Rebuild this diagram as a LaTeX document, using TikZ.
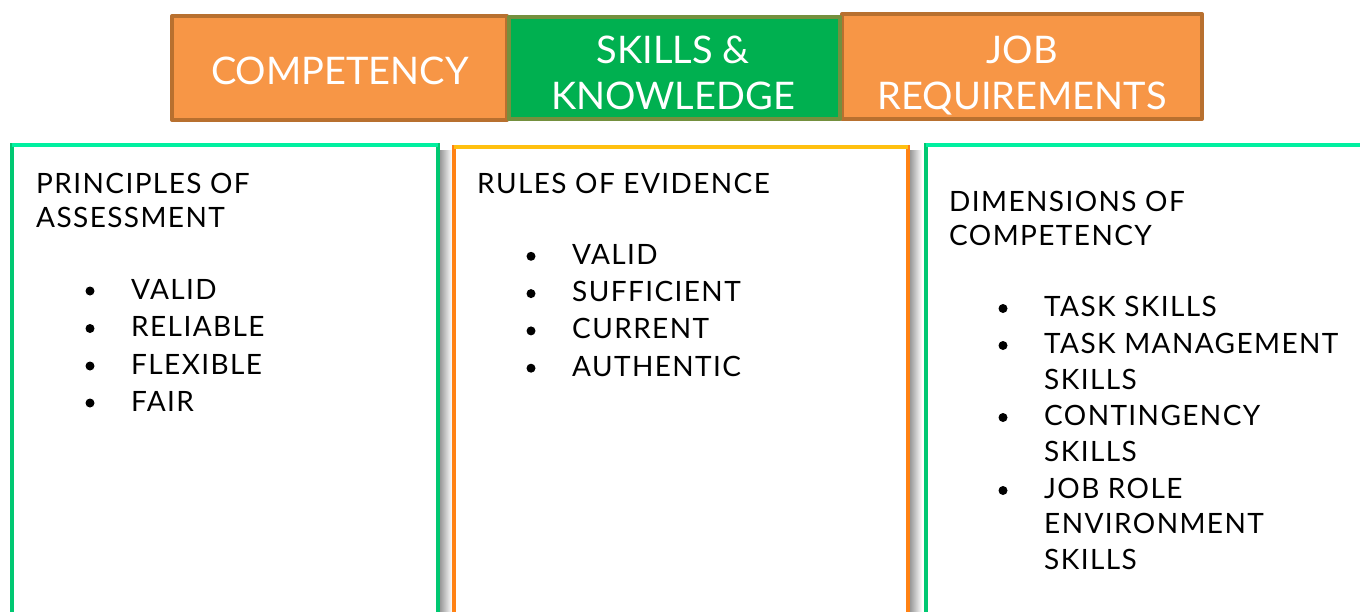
\documentclass[tikz,border=0pt]{standalone}
\usepackage{fontspec}
\setmainfont{Lato}
\newfontfamily\bodyfont[LetterSpace=5]{Lato}

\definecolor{boxorange}{HTML}{F79646}
\definecolor{lineorange}{HTML}{B8702F}
\definecolor{boxgreen}{HTML}{00B050}
\definecolor{linegreen}{HTML}{74903E}
\definecolor{panelgreen}{HTML}{00C872}
\definecolor{panelmint}{HTML}{00F0A0}
\definecolor{panelorange}{HTML}{FF8214}
\definecolor{panelgold}{HTML}{FFC010}

\tikzset{
  topbox/.style={line width=4pt, line join=round},
  toptext/.style={text=white, anchor=base, font=\fontsize{38}{46}\selectfont},
  panel/.style={line width=4pt},
  heading/.style={anchor=base west, inner sep=0pt, font=\bodyfont\fontsize{28}{32}\selectfont},
  item/.style={anchor=base west, inner sep=0pt, font=\bodyfont\fontsize{28}{32}\selectfont},
  dot/.style={fill=black},
}

\begin{document}
\begin{tikzpicture}[x=1pt,y=-1pt]

  \useasboundingbox (0,0) rectangle (1360,611);
  \clip (0,0) rectangle (1360,611);

  \foreach \xb in {440,910}
    \fill[left color=black!40, right color=white] (\xb,150) rectangle (\xb+12,620);

  \begin{scope}[panel]
    \draw[draw=panelgreen] (12,630) |- (438,145) -- (438,630);
    \draw[draw=panelmint] (12,145) -- (438,145);
    \draw[draw=panelorange] (454,630) |- (908,147) -- (908,630);
    \draw[draw=panelgold] (454,147) -- (908,147);
    \draw[draw=panelgreen] (926,630) |- (1370,145);
    \draw[draw=panelmint] (926,145) -- (1370,145);
  \end{scope}

  \begin{scope}[topbox]
    \draw[draw=lineorange, fill=boxorange] (172,16) rectangle (507,120);
    \draw[draw=lineorange, fill=boxorange] (842,14) rectangle (1202,119);
    \draw[draw=linegreen, fill=boxgreen] (509,17) rectangle (840,119);
  \end{scope}

  \node[toptext] (comp) at (340,84) {COMPETENCY};
  \node[toptext] (skills) at (673,63) {SKILLS \&};
  \node[toptext] (know) at (673,109) {KNOWLEDGE};
  \node[toptext] (job) at (1022,63) {JOB};
  \node[toptext] (req) at (1022,109) {REQUIREMENTS};

  \node[heading] (pa1) at (36,193) {PRINCIPLES OF};
  \node[heading] (pa2) at (36,227) {ASSESSMENT};
  \foreach \t/\y [count=\i] in {VALID/299,RELIABLE/336.5,FLEXIBLE/374,FAIR/411}{
    \fill[dot] (90,\y-8) circle (4.5);
    \node[item] (pa-\i) at (131,\y) {\t};
  }

  \node[heading] (re) at (477,193) {RULES OF EVIDENCE};
  \foreach \t/\y [count=\i] in {VALID/264.3,SUFFICIENT/301.6,CURRENT/338.9,AUTHENTIC/376.2}{
    \fill[dot] (531,\y-8) circle (4.5);
    \node[item] (re-\i) at (572,\y) {\t};
  }

  \node[heading] (dc1) at (949,211) {DIMENSIONS OF};
  \node[heading] (dc2) at (949,245.5) {COMPETENCY};
  \foreach \y in {316.5,353.5,425.5,498.5}
    \fill[dot] (1003,\y-8) circle (4.5);
  \foreach \t/\y [count=\i] in {TASK SKILLS/316.5,TASK MANAGEMENT/353.5,SKILLS/389.5,
      CONTINGENCY/425.5,SKILLS/461.5,JOB ROLE/498.5,ENVIRONMENT/533.5,SKILLS/569.5}
    \node[item] (dc-\i) at (1044,\y) {\t};

\end{tikzpicture}
\end{document}
